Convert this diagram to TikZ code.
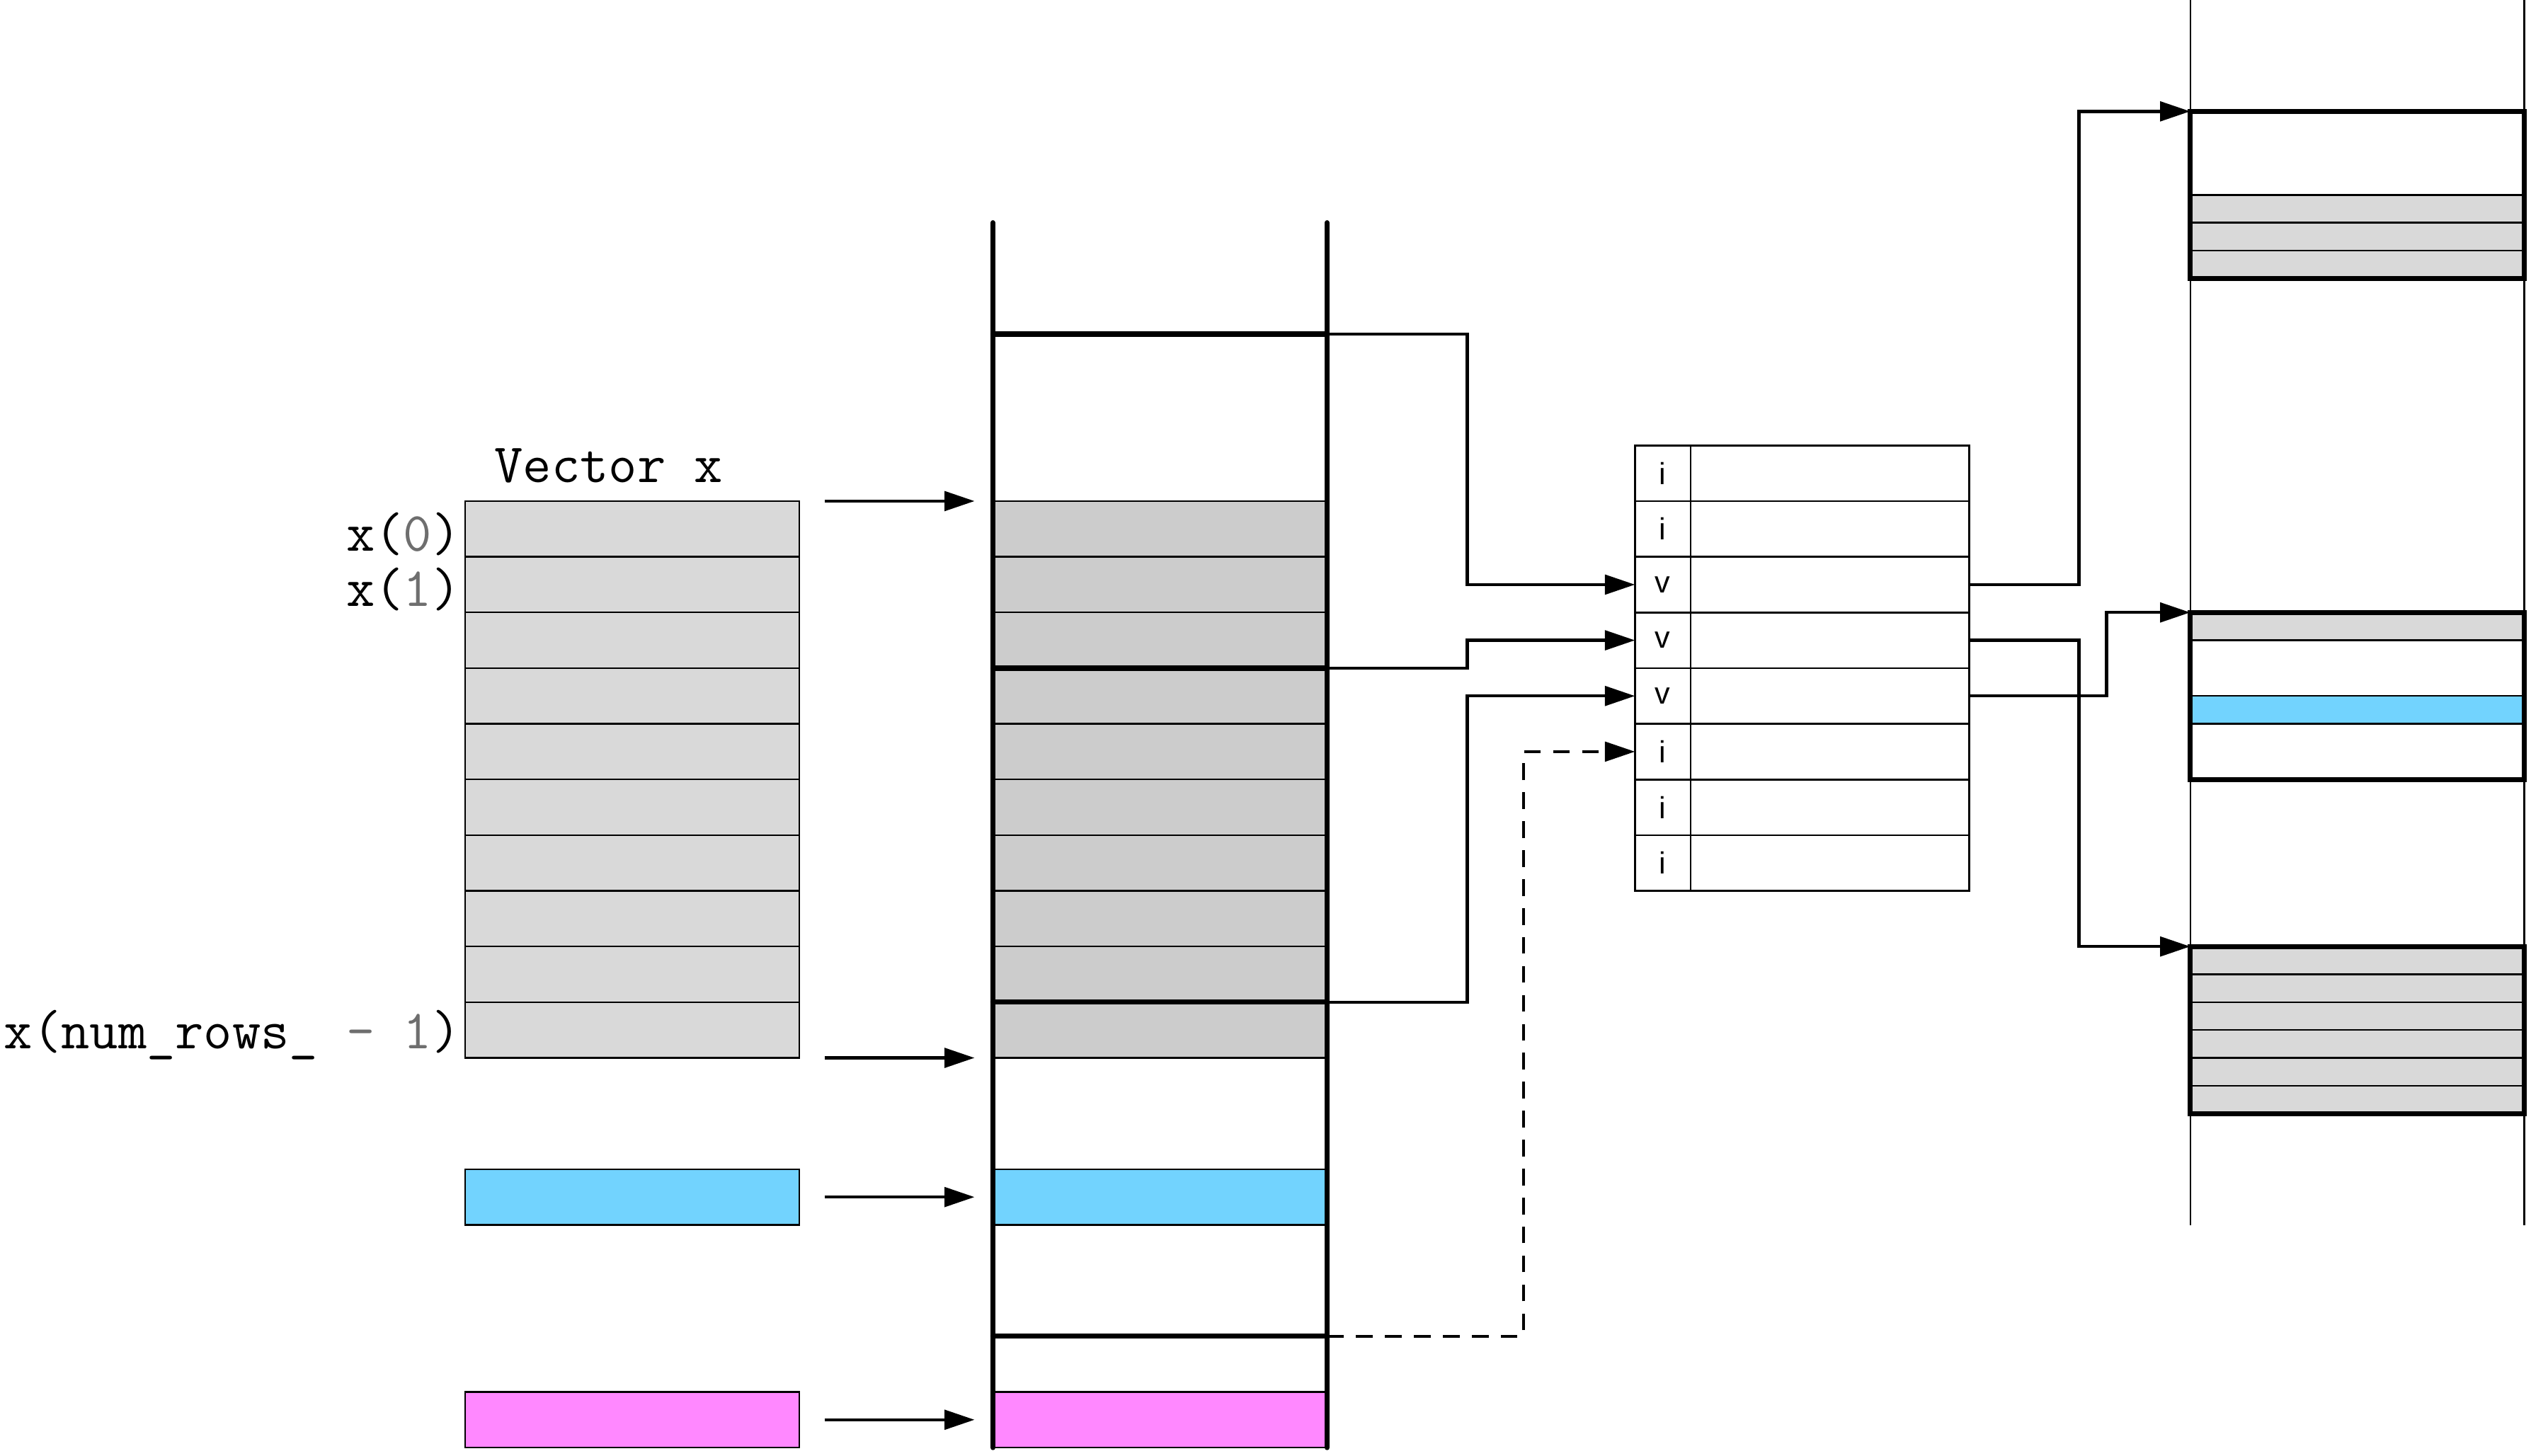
\documentclass[tikz,border=0pt]{standalone}
\usepackage{fontspec}
\usepackage{xcolor}
\usetikzlibrary{arrows.meta, positioning}
\newfontfamily\tablefont{Liberation Sans}

\definecolor{vecgray}{HTML}{D9D9D9}
\definecolor{colgray}{HTML}{CCCCCC}
\definecolor{rowblue}{HTML}{72D3FE}
\definecolor{rowpink}{HTML}{FF88FF}
\definecolor{idxgray}{HTML}{6E6E6E}

\newcommand{\idx}[1]{\textcolor{idxgray}{#1}}

\begin{document}
\begin{tikzpicture}[x=1cm, y=-1cm,
    every node/.style={inner sep=0pt, outer sep=0pt},
    cell/.style={draw, line width=0.9pt, minimum width=6cm, minimum height=1cm, anchor=north west},
    vcell/.style={cell, fill=vecgray},
    mcell/.style={cell, fill=colgray},
    bluecell/.style={cell, fill=rowblue},
    pinkcell/.style={cell, fill=rowpink},
    tcell/.style={draw, line width=1pt, minimum height=1cm, anchor=north west, font=\tablefont\fontsize{15.6}{18}\selectfont},
    strip/.style={draw, line width=0.9pt, minimum width=6cm, minimum height=0.5cm, anchor=north west},
    block/.style={draw, line width=2.4pt, minimum width=6cm, minimum height=3cm, anchor=north west},
    wall/.style={line width=2.6pt, line cap=round},
    rail/.style={line width=0.8pt},
    ttlabel/.style={font=\ttfamily\fontsize{28.3}{34}\selectfont},
    conn/.style={line width=1.6pt, -{Triangle[length=0.54cm, width=0.35cm]}},
    dashconn/.style={conn, dash pattern=on 0.3cm off 0.22cm},
  ]
\useasboundingbox (0,0) rectangle (45.45,26.14);

% vector x
\node[vcell] (v0) at (8.35,9) {};
\foreach \i [count=\j from 0] in {1,...,9}
  \node[vcell, below=0pt of v\j] (v\i) {};
\node[ttlabel] (vtitle) at (10.93,8.36) {Vector x};
\node[ttlabel, left=0.08cm of v0, yshift=-2.5pt] (x0) {x(\idx{0})};
\node[ttlabel, left=0.08cm of v1, yshift=-2.5pt] (x1) {x(\idx{1})};
\node[ttlabel, left=0.08cm of v9, yshift=-2.5pt] (xn) {x(num\_rows\_ \idx{- 1})};

% other vectors
\node[bluecell] (vb) at (8.35,21) {};
\node[pinkcell] (vp) at (8.35,25) {};

% memory column
\node[mcell] (m0) at (17.83,9) {};
\foreach \i [count=\j from 0] in {1,...,9}
  \node[mcell, below=0pt of m\j] (m\i) {};
\node[bluecell] (mb) at (17.83,21) {};
\node[pinkcell] (mp) at (17.83,25) {};
\draw[wall] (17.83,4) -- (17.83,26);
\draw[wall] (23.83,4) -- (23.83,26);
\foreach \y/\nm in {6/sa,12/sb,18/sc,24/sd}
  \draw[wall] (17.83,\y) -- (23.83,\y) coordinate (\nm);

% table
\foreach \lbl [count=\i from 0] in {i,i,v,v,v,i,i,i} {
  \node[tcell, minimum width=1cm] (t\i) at (29.36,8+\i) {\lbl};
  \node[tcell, minimum width=5cm, right=0pt of t\i] (d\i) {};
}

% right column
\draw[rail] (39.33,0) -- (39.33,22);
\draw[rail] (45.33,0) -- (45.33,22);
\foreach \y [count=\k] in {3.5,4,4.5}
  \node[strip, fill=vecgray] (ra\k) at (39.33,\y) {};
\node[strip, fill=vecgray] (rb1) at (39.33,11) {};
\node[strip, fill=rowblue] (rb2) at (39.33,12.5) {};
\foreach \y [count=\k] in {17,17.5,18,18.5,19,19.5}
  \node[strip, fill=vecgray] (rc\k) at (39.33,\y) {};
\node[block] (r1) at (39.33,2) {};
\node[block] (r2) at (39.33,11) {};
\node[block] (r3) at (39.33,17) {};

% arrows into memory
\draw[conn] ([xshift=0.46cm]v0.north east) -- ([xshift=-0.33cm]m0.north west);
\draw[conn] ([xshift=0.46cm]v9.south east) -- ([xshift=-0.33cm]m9.south west);
\draw[conn] ([xshift=0.46cm]vb.east) -- ([xshift=-0.33cm]mb.west);
\draw[conn] ([xshift=0.46cm]vp.east) -- ([xshift=-0.33cm]mp.west);

% memory to table
\draw[conn] (sa) -- ++(2.52,0) |- (t2.west);
\draw[conn] (sb) -- ++(2.52,0) |- (t3.west);
\draw[conn] (sc) -- ++(2.52,0) |- (t4.west);
\draw[dashconn] (sd) -- ++(3.53,0) |- (t5.west);

% table to blocks
\draw[conn] (d2.east) -- ++(1.97,0) |- (r1.north west);
\draw[conn] (d4.east) -- ++(2.47,0) |- (r2.north west);
\draw[conn] (d3.east) -- ++(1.97,0) |- (r3.north west);
\end{tikzpicture}
\end{document}
